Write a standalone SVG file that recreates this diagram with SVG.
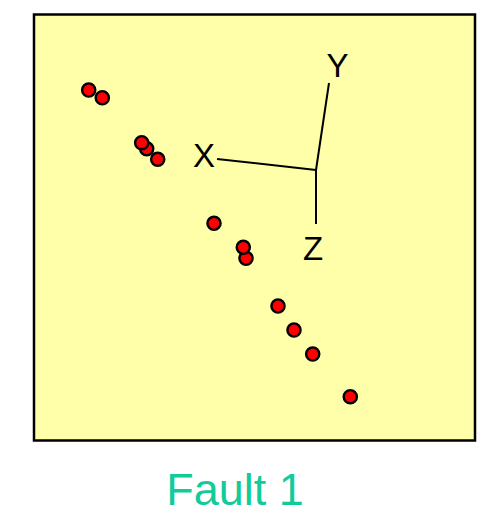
<svg xmlns="http://www.w3.org/2000/svg" width="477" height="516" viewBox="0 0 477 516">
<style>
.dot{fill:#FF0000;stroke:#000;stroke-width:2.4}
.ax{stroke:#000;stroke-width:2;fill:none}
.lab{font-family:"Liberation Sans",Arial,sans-serif;font-size:33px;fill:#000;text-anchor:middle}
</style>
<rect id="frame" x="34" y="14.5" width="441" height="426" fill="#FFFFAA" stroke="#000" stroke-width="2.5"/>
<g id="connectors">
<line class="ax" x1="329" y1="83" x2="316" y2="170"/>
<line class="ax" x1="217" y1="159" x2="316" y2="170"/>
<line class="ax" x1="316" y1="170" x2="316" y2="224"/>
</g>
<g id="labels">
<text id="labelY" class="lab" x="337.5" y="77">Y</text>
<text id="labelX" class="lab" x="204" y="167">X</text>
<text id="labelZ" class="lab" x="313" y="260">Z</text>
</g>
<g id="points">
<circle class="dot" cx="88.7" cy="90" r="6.6"/>
<circle class="dot" cx="102.3" cy="97.7" r="6.6"/>
<circle class="dot" cx="146.7" cy="148.7" r="6.6"/>
<circle class="dot" cx="141.7" cy="142.7" r="6.6"/>
<circle class="dot" cx="157.7" cy="159.3" r="6.6"/>
<circle class="dot" cx="214" cy="223.3" r="6.6"/>
<circle class="dot" cx="246" cy="258.3" r="6.6"/>
<circle class="dot" cx="243.3" cy="247.3" r="6.6"/>
<circle class="dot" cx="278" cy="306" r="6.6"/>
<circle class="dot" cx="294" cy="330" r="6.6"/>
<circle class="dot" cx="312.7" cy="354" r="6.6"/>
<circle class="dot" cx="350.3" cy="396.7" r="6.6"/>
</g>
<text id="title" x="235" y="505" font-family="'Liberation Sans',Arial,sans-serif" font-size="45" fill="#11CC99" text-anchor="middle">Fault 1</text>
</svg>
